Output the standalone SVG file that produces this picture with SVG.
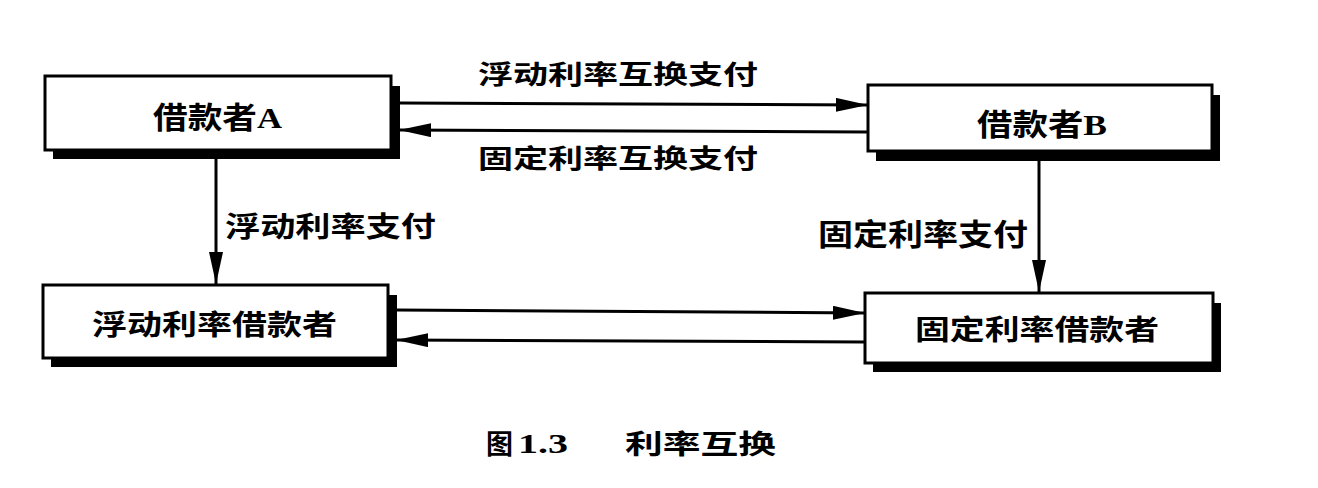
<svg xmlns="http://www.w3.org/2000/svg" width="1318" height="488" viewBox="0 0 1318 488">
<defs>
<style>
.box{fill:#fff;stroke:#000;stroke-width:3}
.shadow{fill:#000}
.conn{stroke:#000;stroke-width:3;fill:none}
.t{font-family:"Liberation Serif","Noto Sans CJK SC",serif;font-weight:bold;fill:#000}
</style>
<marker id="ah" markerUnits="userSpaceOnUse" markerWidth="32" markerHeight="14" viewBox="0 0 32 14" refX="32" refY="7" orient="auto">
<path d="M0,0 L32,7 L0,14 Z" fill="#000"/>
</marker>
</defs>
<rect width="1318" height="488" fill="#fff"/>

<g id="borrowerA">
<rect class="shadow" x="53" y="86" width="347" height="73"/>
<rect class="box" x="45" y="76" width="346" height="74"/>
<text class="t" x="153" y="128" font-size="30" textLength="129" lengthAdjust="spacingAndGlyphs">借款者A</text>
</g>

<g id="borrowerB">
<rect class="shadow" x="876" y="95" width="344" height="66"/>
<rect class="box" x="868" y="85" width="344" height="66"/>
<text class="t" x="977" y="135" font-size="30" textLength="130" lengthAdjust="spacingAndGlyphs">借款者B</text>
</g>

<g id="floatBorrower">
<rect class="shadow" x="51" y="295" width="346" height="72"/>
<rect class="box" x="43" y="285" width="345" height="73"/>
<text class="t" x="92" y="335" font-size="28" textLength="245" lengthAdjust="spacingAndGlyphs">浮动利率借款者</text>
</g>

<g id="fixedBorrower">
<rect class="shadow" x="873" y="303" width="348" height="69"/>
<rect class="box" x="865" y="293" width="348" height="70"/>
<text class="t" x="915" y="340" font-size="28" textLength="244" lengthAdjust="spacingAndGlyphs">固定利率借款者</text>
</g>

<g id="connectors">
<line class="conn" x1="400" y1="103" x2="868" y2="105" marker-end="url(#ah)"/>
<line class="conn" x1="868" y1="132" x2="399" y2="130" marker-end="url(#ah)"/>
<line class="conn" x1="216" y1="159" x2="216" y2="284" marker-end="url(#ah)"/>
<line class="conn" x1="1039" y1="161" x2="1039" y2="292" marker-end="url(#ah)"/>
<line class="conn" x1="397" y1="310" x2="865" y2="313" marker-end="url(#ah)"/>
<line class="conn" x1="865" y1="342" x2="396" y2="340" marker-end="url(#ah)"/>
</g>

<g id="labels">
<text class="t" x="478" y="84" font-size="26" textLength="280" lengthAdjust="spacingAndGlyphs">浮动利率互换支付</text>
<text class="t" x="478" y="168" font-size="26" textLength="280" lengthAdjust="spacingAndGlyphs">固定利率互换支付</text>
<text class="t" x="225" y="237" font-size="28" textLength="211" lengthAdjust="spacingAndGlyphs">浮动利率支付</text>
<text class="t" x="818" y="245" font-size="30" textLength="210" lengthAdjust="spacingAndGlyphs">固定利率支付</text>
</g>

<g id="caption">
<text class="t" x="486" y="454" font-size="27" textLength="27" lengthAdjust="spacingAndGlyphs">图</text>
<text class="t" x="518" y="453" font-size="27" textLength="50" lengthAdjust="spacingAndGlyphs">1.3</text>
<text class="t" x="625" y="454" font-size="27" textLength="151" lengthAdjust="spacingAndGlyphs">利率互换</text>
</g>
</svg>
